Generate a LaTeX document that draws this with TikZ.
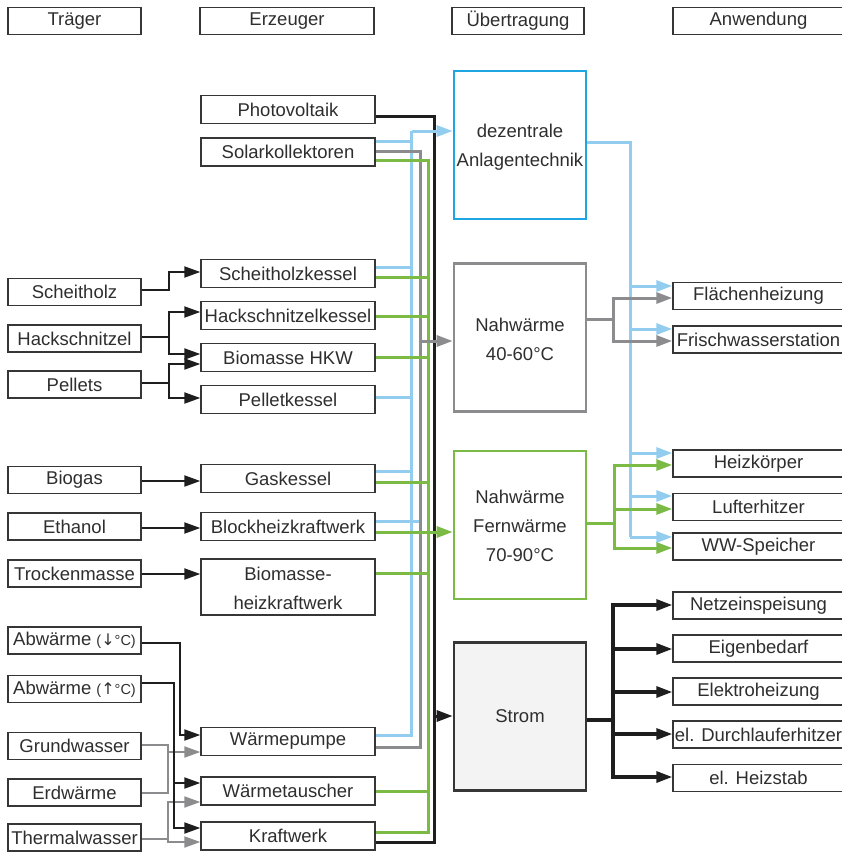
\documentclass[tikz,border=0pt]{standalone}
\usepackage{fontspec}
\setmainfont{Liberation Sans}
\newfontfamily\arrfont{DejaVu Sans}
\usetikzlibrary{arrows.meta}
\definecolor{cblue}{HTML}{92CDEF}
\definecolor{dblue}{HTML}{1DA6E2}
\definecolor{cgray}{HTML}{8C8C8E}
\definecolor{cgreen}{HTML}{7BBA45}
\definecolor{cblack}{HTML}{1E1E1E}
\definecolor{boxc}{HTML}{363636}
\definecolor{txt}{HTML}{2E2E2E}
\definecolor{stromfill}{HTML}{F3F3F3}
\newcommand{\smallpar}[1]{{\fontsize{14.5}{15}\selectfont(}{\arrfont\fontsize{16}{15}\selectfont #1}{\fontsize{14.5}{15}\selectfont°C)}}
\begin{document}
\begin{tikzpicture}[x=1pt,y=-1pt,
 every node/.style={font=\fontsize{18.5}{29}\selectfont, text=txt, inner sep=0pt},
 bx/.style={draw=boxc, line width=1.4pt, minimum height=27pt},
 tbox/.style={bx, minimum width=133pt},
 ebox/.style={bx, minimum width=174pt, minimum height=28pt},
 ubox/.style={line width=2.6pt, minimum width=132pt, minimum height=148pt},
 utext/.style={align=center},
 abox/.style={bx, minimum width=171pt},
 tip/.style={-{Triangle[length=16pt,width=11pt]}},
 lk/.style={line width=2pt, cblack},
 lg/.style={line width=2pt, cgray},
 bus/.style={line width=3pt},
 rbk/.style={line width=3.2pt, cblack},
]
\useasboundingbox (0,0) rectangle (842,852);

% headers
\node[tbox] (hT) at (74.5,21) {Träger};
\node[bx, minimum width=174pt] (hE) at (287,21) {Erzeuger};
\node[bx, minimum width=132pt] (hU) at (518,21) {Übertragung};
\node[abox] (hA) at (758.5,21) {Anwendung};

% Traeger
\node[tbox] (scheitholz) at (74.5,292) {Scheitholz};
\node[tbox] (hack) at (74.5,338.5) {Hackschnitzel};
\node[tbox] (pellets) at (74.5,384.5) {Pellets};
\node[tbox] (biogas) at (74.5,480) {Biogas};
\node[tbox] (ethanol) at (74.5,526.5) {Ethanol};
\node[tbox] (trocken) at (74.5,573.5) {Trockenmasse};
\node[tbox] (abw1) at (74.5,640.5) {Abwärme \smallpar{↓}};
\node[tbox] (abw2) at (74.5,689) {Abwärme \smallpar{↑}};
\node[tbox] (grund) at (74.5,746) {Grundwasser};
\node[tbox] (erd) at (74.5,792.5) {Erdwärme};
\node[tbox] (thermal) at (74.5,837.5) {Thermalwasser};

% Erzeuger
\node[ebox] (pv) at (288,109.5) {Photovoltaik};
\node[ebox] (solar) at (288,152) {Solarkollektoren};
\node[ebox] (scheitk) at (288,273.5) {Scheitholzkessel};
\node[ebox] (hackk) at (288,315.5) {Hackschnitzelkessel};
\node[ebox] (bhkw) at (288,357.5) {Biomasse HKW};
\node[ebox] (pelletk) at (288,399.5) {Pelletkessel};
\node[ebox] (gask) at (288,478.5) {Gaskessel};
\node[ebox] (blockk) at (288,526.5) {Blockheizkraftwerk};
\node[ebox, minimum height=56pt] (biohkw) at (288,587) {};
\node[utext] (biohkwt) at (288,588.5) {Biomasse-\\heizkraftwerk};
\node[ebox] (wp) at (288,741.5) {Wärmepumpe};
\node[ebox] (wt) at (288,791) {Wärmetauscher};
\node[ebox] (kw) at (288,836) {Kraftwerk};

% Uebertragung
\node[ubox, draw=dblue] (dez) at (520,145) {};
\node[utext] (dezt) at (520,147.5) {dezentrale\\Anlagentechnik};
\node[ubox, draw=cgray] (nw) at (520,337.5) {};
\node[utext] (nwt) at (520,339.5) {Nahwärme\\40-60°C};
\node[ubox, draw=cgreen] (fw) at (520,525) {};
\node[utext] (fwt) at (520,525.5) {Nahwärme\\Fernwärme\\70-90°C};
\node[ubox, draw=boxc, fill=stromfill] (strom) at (520,716.5) {Strom};

% Anwendung
\node[abox] (flaeche) at (758.5,296) {Flächenheizung};
\node[abox] (frisch) at (758.5,339.5) {Frischwasserstation};
\node[abox] (heiz) at (758.5,463.5) {Heizkörper};
\node[abox] (luft) at (758.5,507) {Lufterhitzer};
\node[abox] (ww) at (758.5,546.5) {WW-Speicher};
\node[abox] (netz) at (758.5,605.5) {Netzeinspeisung};
\node[abox] (eigen) at (758.5,648.5) {Eigenbedarf};
\node[abox] (elektro) at (758.5,691.5) {Elektroheizung};
\node[abox] (durch) at (758.5,734.5) {el. Durchlauferhitzer};
\node[abox] (stab) at (758.5,778) {el. Heizstab};

% ---- left connectors
\draw[lk,tip] (scheitholz.east |- 0,290) -| (169,272) -- (scheitk.west |- 0,272);
\draw[lk,tip] (hack.east |- 0,337) -| (169,312) -- (hackk.west |- 0,312);
\draw[lk,tip] (169,337) |- (bhkw.west |- 0,354);
\draw[lk,tip] (pellets.east |- 0,383) -| (169,364) -- (bhkw.west |- 0,364);
\draw[lk,tip] (169,383) |- (pelletk.west |- 0,398);
\draw[lk,tip] (biogas.east |- 0,481) -- (gask.west |- 0,481);
\draw[lk,tip] (ethanol.east |- 0,528) -- (blockk.west |- 0,528);
\draw[lk,tip] (trocken.east |- 0,574) -- (biohkw.west |- 0,574);
\draw[lk,tip] (abw1.east |- 0,642.5) -| (180,735) -- (wp.west |- 0,735);
\draw[lg] (grund.east |- 0,745) -| (168,793) -- (erd.east |- 0,793);
\draw[lg,tip] (168,752) -- (wp.west |- 0,752);
\draw[lg] (thermal.east |- 0,838.5) -- (168,838.5);
\draw[lg,tip] (168,838.5) |- (wt.west |- 0,802);
\draw[lg,tip] (168,838.5) |- (kw.west |- 0,842);
\draw[lk,tip] (abw2.east |- 0,682.5) -| (174,783) -- (wt.west |- 0,783);
\draw[lk,tip] (174,783) |- (kw.west |- 0,828);

% ---- middle buses
\draw[bus,cblue] (solar.east |- 0,141) -- (411.5,141);
\draw[bus,cblue] (scheitk.east |- 0,267) -- (411.5,267);
\draw[bus,cblue] (pelletk.east |- 0,397) -- (411.5,397);
\draw[bus,cblue] (gask.east |- 0,471.5) -- (411.5,471.5);
\draw[bus,cblue] (blockk.east |- 0,521) -- (419,521);
\draw[bus,cblue] (wp.east |- 0,735.5) -| (411.5,131);

\draw[bus,cgray] (solar.east |- 0,151) -| (420,747) -- (wp.east |- 0,747);

\draw[bus,cgreen] (solar.east |- 0,160) -| (428,832) -- (kw.east |- 0,832);
\draw[bus,cgreen] (scheitk.east |- 0,277) -- (428,277);
\draw[bus,cgreen] (hackk.east |- 0,316) -- (428,316);
\draw[bus,cgreen] (bhkw.east |- 0,357) -- (428,357);
\draw[bus,cgreen] (gask.east |- 0,482) -- (428,482);
\draw[bus,cgreen] (biohkw.east |- 0,573) -- (428,573);
\draw[bus,cgreen] (wt.east |- 0,791) -- (428,791);

\draw[bus,cblack] (pv.east |- 0,116) -| (434,842) -- (kw.east |- 0,842);

\draw[bus,cblue,tip] (411.5,131) -- (dez.west |- 0,131);
\draw[bus,cgray,tip] (420,341) -- (nw.west |- 0,341);
\draw[bus,cgreen,tip] (blockk.east |- 0,532) -- (fw.west |- 0,532);
\draw[bus,cblack,tip] (434,716) -- (strom.west |- 0,716);

% ---- right connectors
\draw[bus,cblue] (dez.east |- 0,142) -| (630,537);
\draw[bus,cblue,tip] (630,286) -- (flaeche.west |- 0,286);
\draw[bus,cblue,tip] (630,329) -- (frisch.west |- 0,329);
\draw[bus,cblue,tip] (630,453) -- (heiz.west |- 0,453);
\draw[bus,cblue,tip] (630,496) -- (luft.west |- 0,496);
\draw[bus,cblue,tip] (630,537) -- (ww.west |- 0,537);

\draw[bus,cgray] (nw.east |- 0,319) -- (613.5,319);
\draw[bus,cgray,tip] (613.5,319) |- (flaeche.west |- 0,298);
\draw[bus,cgray,tip] (613.5,319) |- (frisch.west |- 0,341);

\draw[bus,cgreen] (fw.east |- 0,523) -- (614,523);
\draw[bus,cgreen,tip] (614,523) |- (heiz.west |- 0,465);
\draw[bus,cgreen,tip] (614,523) |- (luft.west |- 0,509);
\draw[bus,cgreen,tip] (614,523) |- (ww.west |- 0,548);

\draw[rbk] (strom.east |- 0,720) -- (613,720);
\draw[rbk,tip] (613,720) |- (netz.west |- 0,605);
\draw[rbk,tip] (613,720) |- (eigen.west |- 0,649);
\draw[rbk,tip] (613,720) |- (elektro.west |- 0,692);
\draw[rbk,tip] (613,720) |- (durch.west |- 0,734);
\draw[rbk,tip] (613,720) |- (stab.west |- 0,777);
\end{tikzpicture}
\end{document}
